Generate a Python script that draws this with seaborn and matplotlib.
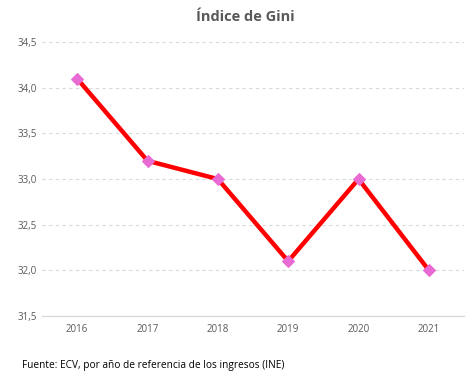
import matplotlib
matplotlib.use("Agg")
import matplotlib.pyplot as plt
import seaborn as sns
import pandas as pd
from matplotlib.ticker import FuncFormatter

years = ["2016", "2017", "2018", "2019", "2020", "2021"]
gini = [34.1, 33.2, 33.0, 32.1, 33.0, 32.0]
title = "Índice de Gini"
source = "Fuente: ECV, por año de referencia de los ingresos (INE)"

sns.set_style("white")
plt.rcParams["font.family"] = ["Open Sans", "DejaVu Sans"]

df = pd.DataFrame({"year": years, "gini": gini})

fig = plt.figure(figsize=(4.74, 3.83), dpi=100)
ax = fig.add_axes([0.0886, 0.175, 0.8904, 0.715])

sns.lineplot(data=df, x="year", y="gini", ax=ax, color="#ff0000", linewidth=3.2,
             marker="D", markersize=6.5, markerfacecolor="#e86ad2",
             markeredgecolor="#e86ad2", sort=False)

ax.set_xlim(-0.5, 5.5)
ax.set_ylim(31.5, 34.5)
ax.set_yticks([31.5, 32.0, 32.5, 33.0, 33.5, 34.0, 34.5])
ax.yaxis.set_major_formatter(FuncFormatter(lambda v, p: f"{v:.1f}".replace(".", ",")))
ax.grid(axis="y", linestyle=(0, (3, 3)), color="#d9d9d9", linewidth=0.8)
ax.set_axisbelow(True)
for s in ["top", "right", "left"]:
    ax.spines[s].set_visible(False)
ax.spines["bottom"].set_color("#d9d9d9")
ax.spines["bottom"].set_linewidth(0.9)
ax.tick_params(axis="both", length=0, labelsize=7, labelcolor="#595959", pad=6)
ax.tick_params(axis="y", pad=4)
ax.set_xlabel("")
ax.set_ylabel("")

fig.text(0.517, 0.955, title, ha="center", va="center", fontsize=10.5,
         fontweight="bold", color="#595959")
fig.text(0.046, 0.045, source, ha="left", va="center", fontsize=7.3, color="#000000")

fig.savefig("out.png", dpi=100)
